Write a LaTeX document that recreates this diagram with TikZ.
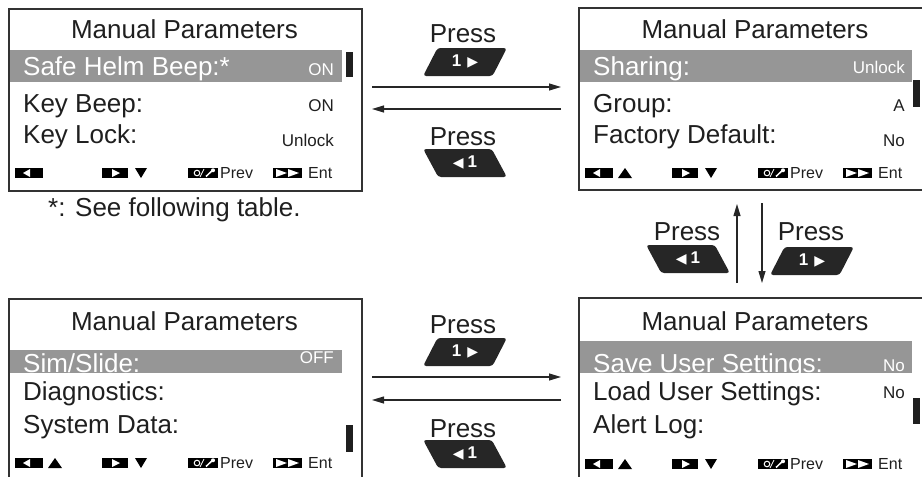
\documentclass[tikz,border=0pt]{standalone}
\usepackage{fontspec}
\setmainfont{Liberation Sans}
\newfontfamily\symfont{DejaVu Sans}
\usetikzlibrary{shapes.geometric,arrows.meta}

\newcommand{\rtri}{{\symfont\fontsize{14}{14}\selectfont ▶}}
\newcommand{\ltri}{{\symfont\fontsize{14}{14}\selectfont ◀}}

\tikzset{
  screen/.style={draw=black!80, line width=1.5pt, fill=none},
  hilite/.style={fill=black!41},
  bar/.style={fill=black!88},
  scrtitle/.style={font=\fontsize{26}{28}\selectfont, text=black!88, anchor=base, inner sep=0pt},
  scritem/.style={font=\fontsize{26}{28}\selectfont, text=black!88, anchor=base west, inner sep=0pt},
  scrval/.style={font=\fontsize{17}{18}\selectfont, text=black!88, anchor=base east, inner sep=0pt},
  sel/.style={text=white},
  foot/.style={font=\fontsize{16}{17}\selectfont, text=black!88, anchor=base west, inner sep=0pt},
  press/.style={font=\fontsize{26}{28}\selectfont, text=black!88, anchor=base, inner sep=0pt},
  keyR/.style={trapezium, trapezium left angle=63, trapezium right angle=117,
    trapezium stretches=true, fill=black!85, text=white, minimum width=84pt,
    minimum height=28pt, inner sep=0pt, rounded corners=3pt,
    font=\fontsize{17}{17}\selectfont\bfseries},
  keyL/.style={keyR, trapezium left angle=117, trapezium right angle=63},
  link/.style={-{Triangle[length=12pt,width=7pt]}, line width=1.1pt, draw=black!85},
  % footer row of a screen
  footbar/.pic={
    \fill (7,0) rectangle (35,10);
    \fill[white] (15,5) -- (22,1) -- (22,9) -- cycle;
    \fill (94,0) rectangle (120,10);
    \fill[white] (112,5) -- (104,1) -- (104,9) -- cycle;
    \fill (127,0) -- (139,0) -- (133,10) -- cycle;
    \fill (180,0) rectangle (210,10);
    \draw[white, line width=1pt] (189,5) circle (2.8);
    \draw[white, line width=0.8pt] (192,9) -- (196,1);
    \draw[white, line width=1.5pt] (198,8.5) -- (204,2.8);
    \fill[white] (205,2.3) circle (2);
    \node[foot] (-prev) at (212,10) {Prev};
    \fill (265,0) rectangle (294,10);
    \fill[white] (268,1) -- (279,5) -- (268,9) -- cycle;
    \fill[white] (280,1) -- (291,5) -- (280,9) -- cycle;
    \node[foot] (-ent) at (300,10) {Ent};
  },
  footup/.pic={
    \fill (40,10) -- (54,10) -- (47,0) -- cycle;
  },
}

\begin{document}
\begin{tikzpicture}[x=1pt, y=-1pt]
  \useasboundingbox (0,0) rectangle (922,477);
  \clip (0,0) rectangle (922,477);

  % screen 1 (top left)
  \fill[hilite] (8,50) rectangle (342,82);
  \node[screen, anchor=north west, minimum width=353pt, minimum height=182pt, inner sep=0pt] (scrA) at (8,8) {};
  \node[scrtitle] (tA) at (184.5,38) {Manual Parameters};
  \node[scritem, sel] (iA1) at (23,75) {Safe Helm Beep:*};
  \node[scrval, sel] (vA1) at (334,75) {ON};
  \node[scritem] (iA2) at (23,112) {Key Beep:};
  \node[scrval] (vA2) at (334,111) {ON};
  \node[scritem] (iA3) at (23,143) {Key Lock:};
  \node[scrval] (vA3) at (334,146) {Unlock};
  \fill[bar] (346,52) rectangle (353,77);
  \pic (fA) at (8,168) {footbar};
  \node[scritem] (note) at (48,216) {*: See following table.};

  % screen 2 (top right)
  \fill[hilite] (578,50) rectangle (912,82);
  \node[screen, anchor=north west, minimum width=353pt, minimum height=182pt, inner sep=0pt] (scrB) at (578,7) {};
  \node[scrtitle] (tB) at (755,38) {Manual Parameters};
  \node[scritem, sel] (iB1) at (593,75) {Sharing:};
  \node[scrval, sel] (vB1) at (905,73) {Unlock};
  \node[scritem] (iB2) at (593,112) {Group:};
  \node[scrval] (vB2) at (905,111) {A};
  \node[scritem] (iB3) at (593,143) {Factory Default:};
  \node[scrval] (vB3) at (905,146) {No};
  \fill[bar] (913,80) rectangle (920,107);
  \pic (fB) at (578,168) {footbar};
  \pic at (578,168) {footup};

  % screen 3 (bottom left)
  \fill[hilite] (8,350) rectangle (342,373);
  \node[screen, anchor=north west, minimum width=353pt, minimum height=200pt, inner sep=0pt] (scrC) at (8,298) {};
  \node[scrtitle] (tC) at (184.5,330) {Manual Parameters};
  \node[scritem, sel] (iC1) at (23,372) {Sim/Slide:};
  \node[scrval, sel] (vC1) at (334,363) {OFF};
  \node[scritem] (iC2) at (23,400) {Diagnostics:};
  \node[scritem] (iC3) at (23,433) {System Data:};
  \fill[bar] (346,425) rectangle (353,452);
  \pic (fC) at (8,458) {footbar};
  \pic at (8,458) {footup};

  % screen 4 (bottom right)
  \fill[hilite] (578,341) rectangle (912,373);
  \node[screen, anchor=north west, minimum width=353pt, minimum height=200pt, inner sep=0pt] (scrD) at (578,297) {};
  \node[scrtitle] (tD) at (755,330) {Manual Parameters};
  \node[scritem, sel] (iD1) at (593,372) {Save User Settings:};
  \node[scrval, sel] (vD1) at (905,371) {No};
  \node[scritem] (iD2) at (593,400) {Load User Settings:};
  \node[scrval] (vD2) at (905,398) {No};
  \node[scritem] (iD3) at (593,433) {Alert Log:};
  \fill[bar] (913,398) rectangle (920,424);
  \pic (fD) at (578,459) {footbar};
  \pic at (578,459) {footup};

  % keys and arrows, top pair
  \node[press] (p1) at (463,42) {Press};
  \node[keyR] (k1) at (465,62) {1\hspace{6pt}\rtri};
  \node[press] (p2) at (463,145) {Press};
  \node[keyL] (k2) at (465,163) {\ltri\hspace{4pt}1};
  \coordinate (a1s) at (372,87);
  \coordinate (a1e) at (561,87);
  \coordinate (a2s) at (561,109);
  \coordinate (a2e) at (372,109);
  \draw[link] (a1s) -- (a1e);
  \draw[link] (a2s) -- (a2e);

  % keys and arrows, right column
  \node[press] (p3) at (687,240) {Press};
  \node[keyL] (k3) at (688,259) {\ltri\hspace{4pt}1};
  \node[press] (p4) at (811,240) {Press};
  \node[keyR] (k4) at (812,261) {1\hspace{6pt}\rtri};
  \coordinate (a3s) at (737,283);
  \coordinate (a3e) at (737,204);
  \coordinate (a4s) at (762,203);
  \coordinate (a4e) at (762,283);
  \draw[link] (a3s) -- (a3e);
  \draw[link] (a4s) -- (a4e);

  % keys and arrows, bottom pair
  \node[press] (p5) at (463,333) {Press};
  \node[keyR] (k5) at (465,352) {1\hspace{6pt}\rtri};
  \node[press] (p6) at (463,437) {Press};
  \node[keyL] (k6) at (465,454) {\ltri\hspace{4pt}1};
  \coordinate (a5s) at (372,377);
  \coordinate (a5e) at (561,377);
  \coordinate (a6s) at (561,400);
  \coordinate (a6e) at (372,400);
  \draw[link] (a5s) -- (a5e);
  \draw[link] (a6s) -- (a6e);
\end{tikzpicture}
\end{document}
